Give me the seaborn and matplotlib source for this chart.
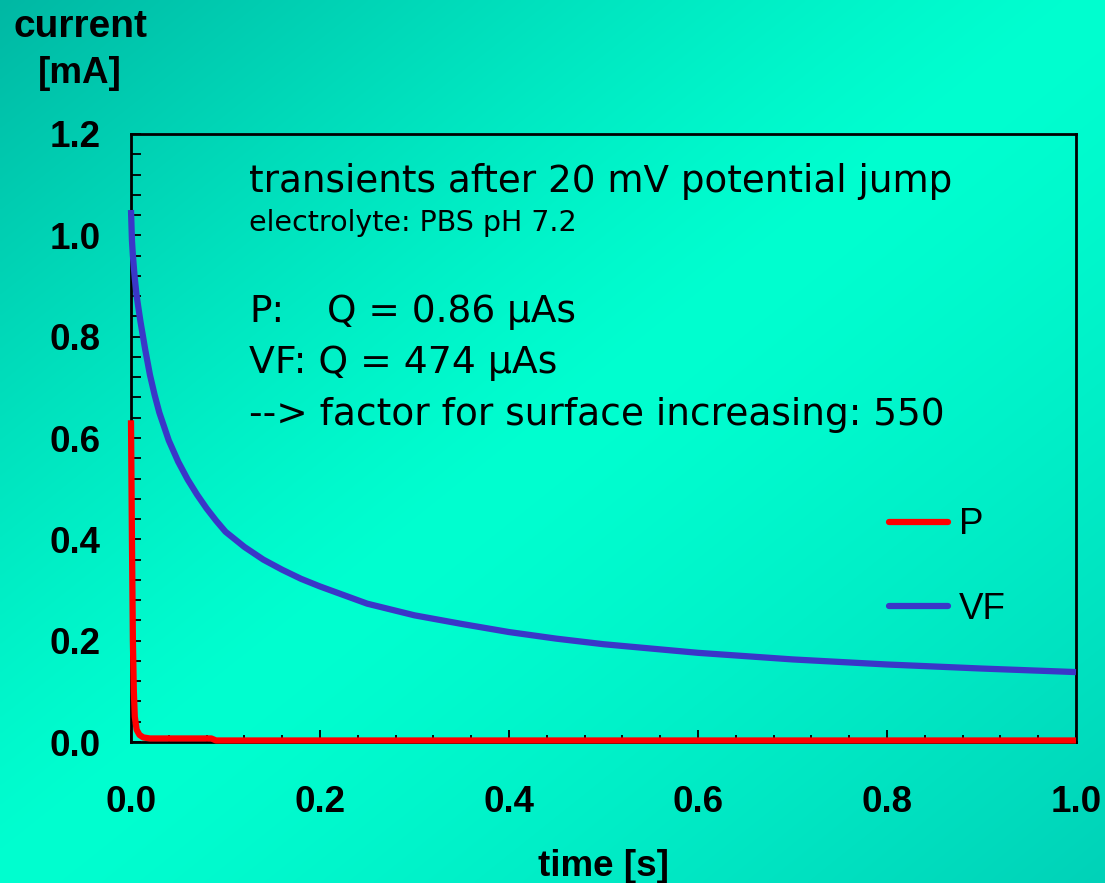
import numpy as np
import pandas as pd
import seaborn as sns
import matplotlib
matplotlib.use("Agg")
import matplotlib.pyplot as plt
from matplotlib.ticker import MultipleLocator, FormatStrFormatter
from matplotlib.transforms import blended_transform_factory

# --- measured transients (time in s, current in mA) ---
vf_time = [0.000, 0.001, 0.002, 0.004, 0.006, 0.008, 0.010, 0.015, 0.020,
           0.025, 0.030, 0.040, 0.050, 0.060, 0.070, 0.080, 0.090, 0.100,
           0.120, 0.140, 0.160, 0.180, 0.200, 0.250, 0.300, 0.350, 0.400,
           0.450, 0.500, 0.600, 0.700, 0.800, 0.900, 1.000]
vf_current = [1.05, 0.99, 0.96, 0.915, 0.88, 0.855, 0.83, 0.775, 0.725,
              0.685, 0.65, 0.595, 0.553, 0.518, 0.488, 0.461, 0.437, 0.415,
              0.385, 0.360, 0.340, 0.322, 0.307, 0.273, 0.250, 0.233, 0.217,
              0.204, 0.193, 0.176, 0.163, 0.153, 0.145, 0.138]

p_time = [0.000, 0.001, 0.002, 0.003, 0.004, 0.006, 0.009, 0.013, 0.020,
          0.050, 0.085, 0.090, 0.200, 0.500, 1.000]
p_current = [0.635, 0.40, 0.20, 0.10, 0.05, 0.024, 0.014, 0.009, 0.007,
             0.007, 0.007, 0.003, 0.003, 0.003, 0.003]

series_names = ["P", "VF"]
series_colors = {"P": "#ff0000", "VF": "#3a36c8"}

title_line = "transients after 20 mV potential jump"
subtitle_line = "electrolyte: PBS pH 7.2"
p_charge = "Q = 0.86 µAs"
vf_charge = "VF: Q = 474 µAs"
factor_line = "--> factor for surface increasing: 550"

df = pd.concat([
    pd.DataFrame({"time": p_time, "current": p_current, "sample": "P"}),
    pd.DataFrame({"time": vf_time, "current": vf_current, "sample": "VF"}),
], ignore_index=True)

W, H, DPI = 1105, 883, 100
fig = plt.figure(figsize=(W / DPI, H / DPI), dpi=DPI)

# diagonal teal gradient background
bg = fig.add_axes([0, 0, 1, 1], zorder=-10)
u, v = np.meshgrid(np.linspace(0, 1, 400), np.linspace(0, 1, 320))
s = u + v - 1.0
centre = np.array([0, 255, 208]) / 255.0
corner_tl = np.array([0, 184, 164]) / 255.0
corner_br = np.array([0, 210, 184]) / 255.0
w = np.clip(np.abs(s), 0, 1)[..., None] ** 1.3
img = np.where(s[..., None] < 0,
               centre * (1 - w) + corner_tl * w,
               centre * (1 - w) + corner_br * w)
bg.imshow(img, aspect="auto", extent=[0, 1, 1, 0], interpolation="bilinear")
bg.set_axis_off()

ax = fig.add_axes([131 / W, 1 - 742 / H, 945 / W, 608 / H])
ax.set_facecolor("none")

sns.lineplot(data=df, x="time", y="current", hue="sample",
             hue_order=series_names, palette=series_colors,
             estimator=None, sort=False, linewidth=4.5, ax=ax,
             legend=True)
for ln in ax.lines:
    ln.set_zorder(5)
    ln.set_clip_on(False)
    ln.set_solid_capstyle("butt")
    ln.set_solid_joinstyle("round")

ax.set_xlim(0, 1.0)
ax.set_ylim(0, 1.2)
ax.xaxis.set_major_locator(MultipleLocator(0.2))
ax.xaxis.set_minor_locator(MultipleLocator(0.04))
ax.yaxis.set_major_locator(MultipleLocator(0.2))
ax.yaxis.set_minor_locator(MultipleLocator(0.04))
ax.xaxis.set_major_formatter(FormatStrFormatter("%.1f"))
ax.yaxis.set_major_formatter(FormatStrFormatter("%.1f"))

for sp in ax.spines.values():
    sp.set_linewidth(2)
    sp.set_color("black")

tick_font = {"family": "Liberation Sans", "weight": "bold", "size": 26.5}
ax.tick_params(axis="x", which="major", direction="in", length=9, width=1.3,
               pad=31)
ax.tick_params(axis="x", which="minor", direction="in", length=5, width=1.3)
ax.tick_params(axis="y", which="both", direction="in", length=7, width=1.3,
               pad=22)
for lab in ax.get_xticklabels() + ax.get_yticklabels():
    lab.set_fontfamily("Liberation Sans")
    lab.set_fontweight("bold")
    lab.set_fontsize(26.5)
ax.set_xlabel("")
ax.set_ylabel("")

# axis titles
fig.text(603 / W, 1 - 876 / H, "time [s]", ha="center", va="baseline",
         **tick_font)
fig.text(80 / W, 1 - 37 / H, "current", ha="center", va="baseline",
         family="Liberation Sans", weight="bold", size=28)
fig.text(80 / W, 1 - 83 / H, "[mA]", ha="center", va="baseline",
         **tick_font)

# legend
leg = ax.legend(loc="upper left", bbox_to_anchor=(0.783, 0.416),
                frameon=False, handlelength=1.6, handletextpad=0.3,
                labelspacing=1.34, borderpad=0,
                prop={"family": "Liberation Sans", "size": 26.5})
for h in leg.get_lines():
    h.set_linewidth(4.5)
    h.set_solid_capstyle("round")

# annotations: x in axes fraction, baseline in data units
tr = blended_transform_factory(ax.transAxes, ax.transData)
x0 = 0.1249
note = {"family": "DejaVu Sans", "ha": "left", "va": "baseline",
        "transform": tr}
ax.text(x0, 1.0855, title_line, fontsize=26.8, **note)
ax.text(x0, 1.0085, subtitle_line, fontsize=20.5, **note)
ax.text(x0, 0.829, "P:", fontsize=27.0, **note)
ax.text(0.207, 0.829, p_charge, fontsize=27.0, **note)
ax.text(x0, 0.728, vf_charge, fontsize=27.2, **note)
ax.text(x0, 0.626, factor_line, fontsize=27.0, **note)

fig.savefig("out.png", dpi=DPI)
